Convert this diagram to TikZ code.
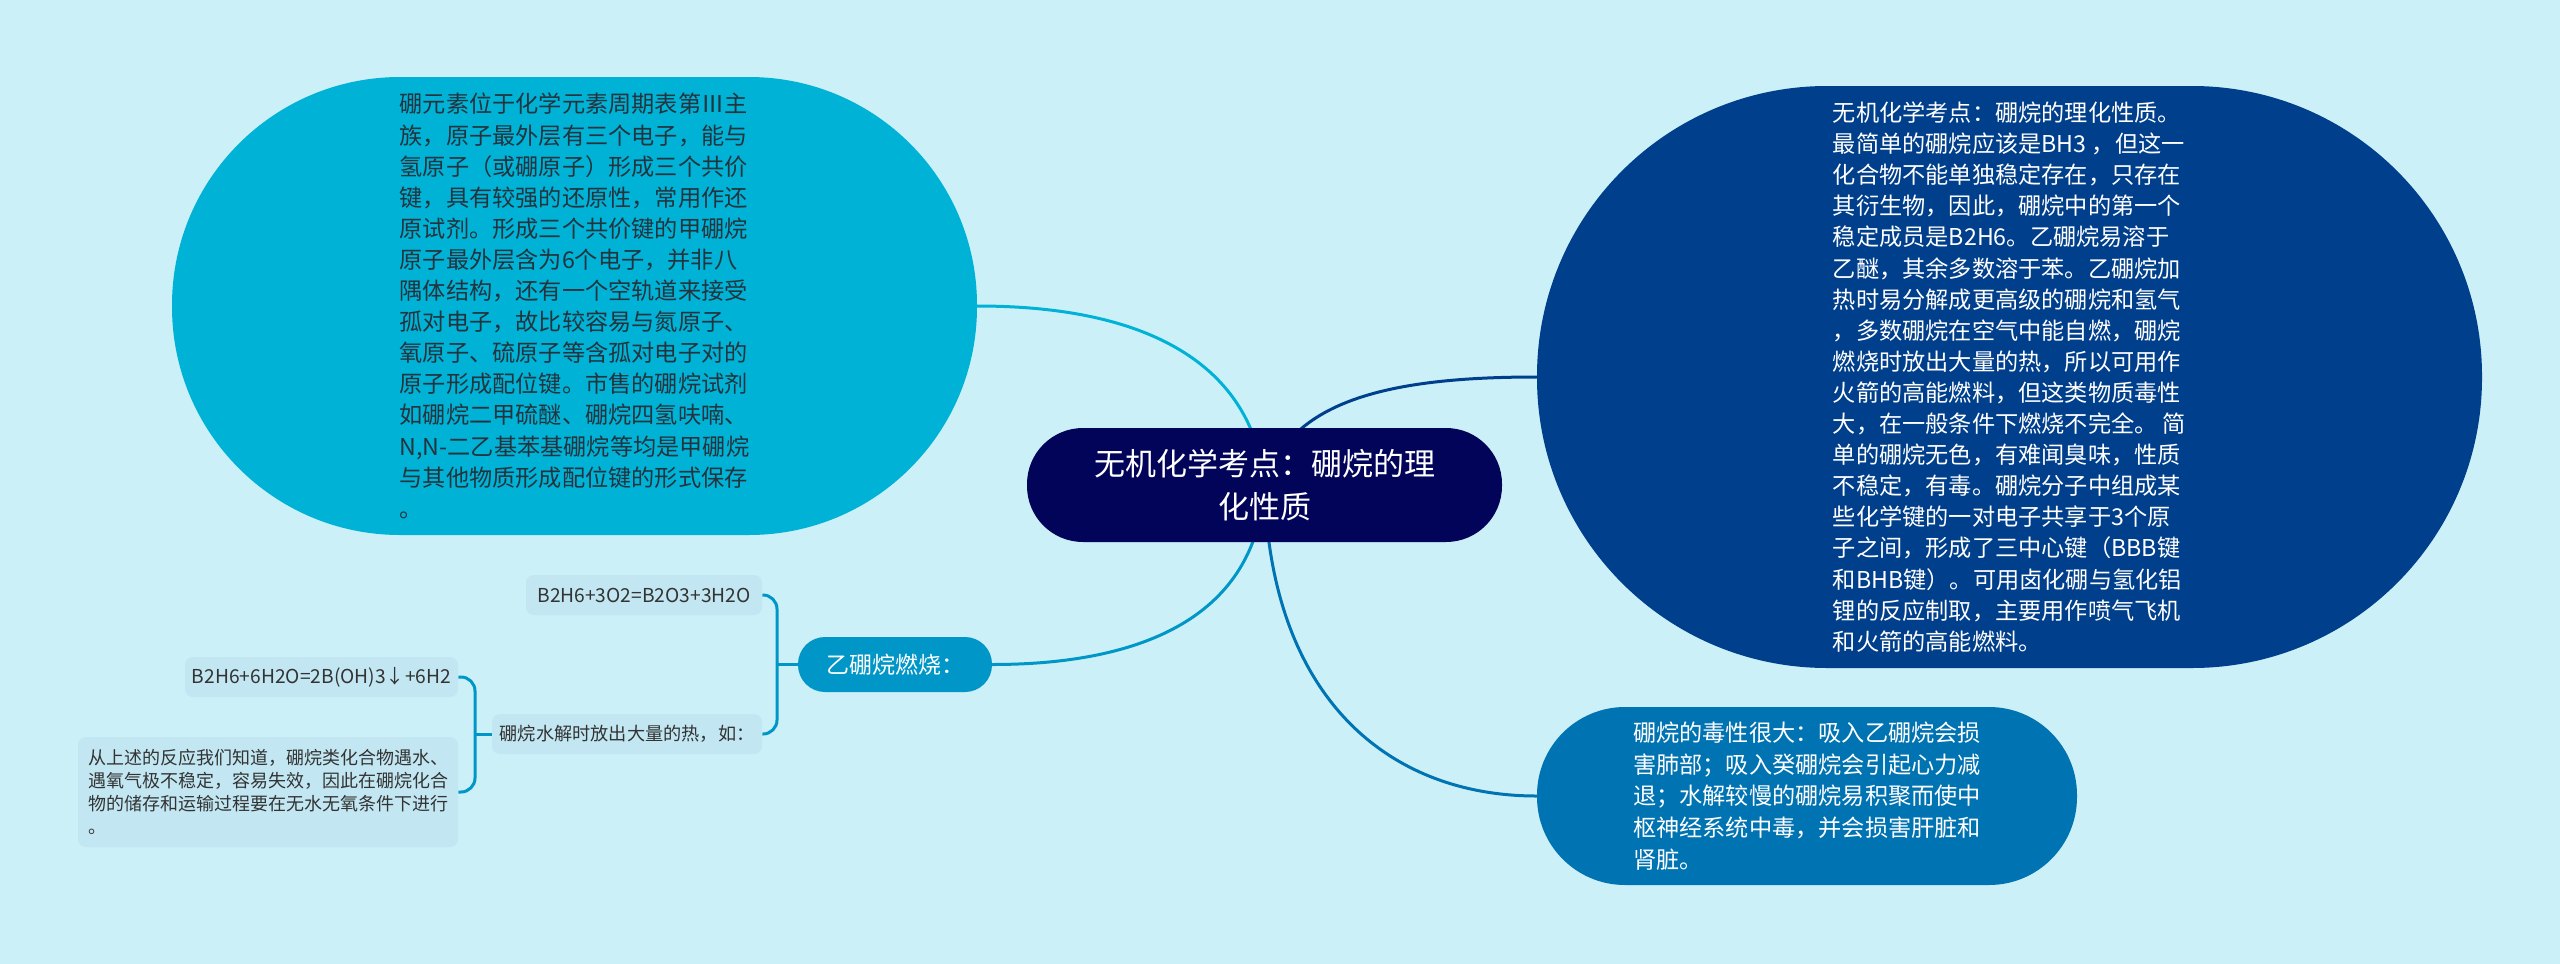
\documentclass[tikz,border=0pt]{standalone}
\usepackage{fontspec}
\setmainfont{Noto Sans CJK SC}
\usetikzlibrary{backgrounds}
\definecolor{bgc}{RGB}{203,240,248}
\definecolor{cleft}{RGB}{0,178,214}
\definecolor{cright}{RGB}{0,63,139}
\definecolor{ccentral}{RGB}{2,4,90}
\definecolor{cbottom}{RGB}{0,115,178}
\definecolor{cburn}{RGB}{0,150,200}
\definecolor{csmall}{RGB}{194,231,242}
\definecolor{tdark}{RGB}{35,52,62}
\definecolor{tsmall}{RGB}{51,51,51}
\tikzset{
  bubble/.style={rectangle, inner sep=0pt, align=left, draw=none},
  bigtext/.style={font=\fontsize{11.6pt}{15.55pt}\selectfont},
  smallbox/.style={rectangle, inner sep=0pt, fill=csmall, rounded corners=4pt, align=left, text=tsmall, font=\fontsize{9.1pt}{11.5pt}\selectfont},
  link/.style={line width=1.5pt, line cap=round},
  brk/.style={line width=1.5pt, draw=cburn, rounded corners=7pt}
}
\begin{document}
\begin{tikzpicture}[x=0.5pt,y=-0.5pt]
\useasboundingbox (0,0) rectangle (2560,964);

% central node
\node[bubble, fill=ccentral, text=white, align=center, minimum width=237.5pt, minimum height=57pt, rounded corners=28pt,
  font=\fontsize{15.5pt}{21.5pt}\selectfont] (c) at (1264.5,485) {无机化学考点：硼烷的理\\化性质};

% left bubble
\node[bubble, bigtext, fill=cleft, text=tdark, minimum width=402.5pt, minimum height=229pt, rounded corners=114pt] (n1) at (574.5,306) {硼元素位于化学元素周期表第Ⅲ主\\
族，原子最外层有三个电子，能与\\
氢原子（或硼原子）形成三个共价\\
键，具有较强的还原性，常用作还\\
原试剂。形成三个共价键的甲硼烷\\
原子最外层含为6个电子，并非八\\
隅体结构，还有一个空轨道来接受\\
孤对电子，故比较容易与氮原子、\\
氧原子、硫原子等含孤对电子对的\\
原子形成配位键。市售的硼烷试剂\\
如硼烷二甲硫醚、硼烷四氢呋喃、\\
N,N-二乙基苯基硼烷等均是甲硼烷\\
与其他物质形成配位键的形式保存\\
。};

% right bubble
\node[bubble, bigtext, fill=cright, text=white, minimum width=472.5pt, minimum height=291pt, rounded corners=145pt] (n2) at (2009.5,377) {无机化学考点：硼烷的理化性质。\\
最简单的硼烷应该是BH3 ，但这一\\
化合物不能单独稳定存在，只存在\\
其衍生物，因此，硼烷中的第一个\\
稳定成员是B2H6。乙硼烷易溶于\\
乙醚，其余多数溶于苯。乙硼烷加\\
热时易分解成更高级的硼烷和氢气\\
，多数硼烷在空气中能自燃，硼烷\\
燃烧时放出大量的热，所以可用作\\
火箭的高能燃料，但这类物质毒性\\
大，在一般条件下燃烧不完全。 简\\
单的硼烷无色，有难闻臭味，性质\\
不稳定，有毒。硼烷分子中组成某\\
些化学键的一对电子共享于3个原\\
子之间，形成了三中心键（BBB键\\
和BHB键）。可用卤化硼与氢化铝\\
锂的反应制取，主要用作喷气飞机\\
和火箭的高能燃料。};

% bottom bubble
\node[bubble, fill=cbottom, text=white, minimum width=270pt, minimum height=89pt, rounded corners=44pt,
  font=\fontsize{11.6pt}{15.8pt}\selectfont] (n3) at (1807,796) {硼烷的毒性很大：吸入乙硼烷会损\\
害肺部；吸入癸硼烷会引起心力减\\
退；水解较慢的硼烷易积聚而使中\\
枢神经系统中毒，并会损害肝脏和\\
肾脏。};

% burn node
\node[bubble, fill=cburn, text=white, align=center, minimum width=97pt, minimum height=27.5pt, rounded corners=13.5pt,
  font=\fontsize{11.5pt}{14pt}\selectfont] (yb) at (895,664.5) {乙硼烷燃烧：};

% small nodes
\node[smallbox, minimum width=118pt, minimum height=20pt, font=\fontsize{9.6pt}{11.5pt}\selectfont] (s1) at (644,595) {B2H6+3O2=B2O3+3H2O};
\node[smallbox, minimum width=135pt, minimum height=20pt] (s2) at (627,734) {硼烷水解时放出大量的热，如：};
\node[smallbox, minimum width=136.5pt, minimum height=20pt, font=\fontsize{9.6pt}{11.5pt}\selectfont] (s3) at (321.5,677) {B2H6+6H2O=2B(OH)3↓+6H2};
\node[smallbox, minimum width=190pt, minimum height=55pt, font=\fontsize{9pt}{11.5pt}\selectfont] (s4) at (268,792) {从上述的反应我们知道，硼烷类化合物遇水、\\
遇氧气极不稳定，容易失效，因此在硼烷化合\\
物的储存和运输过程要在无水无氧条件下进行\\
。};

\coordinate (j1) at (777,664.5);
\coordinate (j2) at (475,734);

\begin{scope}[on background layer]
  \fill[bgc] (0,0) rectangle (2560,964);
  \draw[link, draw=cleft] (c.center) .. controls (1255,380) and (1170,306) .. (n1.east);
  \draw[link, draw=cright] (c.center) .. controls (1290,400) and (1390,377) .. (n2.west);
  \draw[link, draw=cbottom] (c.center) .. controls (1270,700) and (1390,796) .. (n3.west);
  \draw[link, draw=cburn] (c.center) .. controls (1255,640) and (1100,664.5) .. (yb.east);
  \draw[brk] (yb.west) -- (j1);
  \draw[brk] (s1.east) -| (j1) |- (s2.east);
  \draw[brk] (s2.west) -- (j2);
  \draw[brk] (s3.east) -| (j2) |- (s4.east);
\end{scope}
\end{tikzpicture}
\end{document}
